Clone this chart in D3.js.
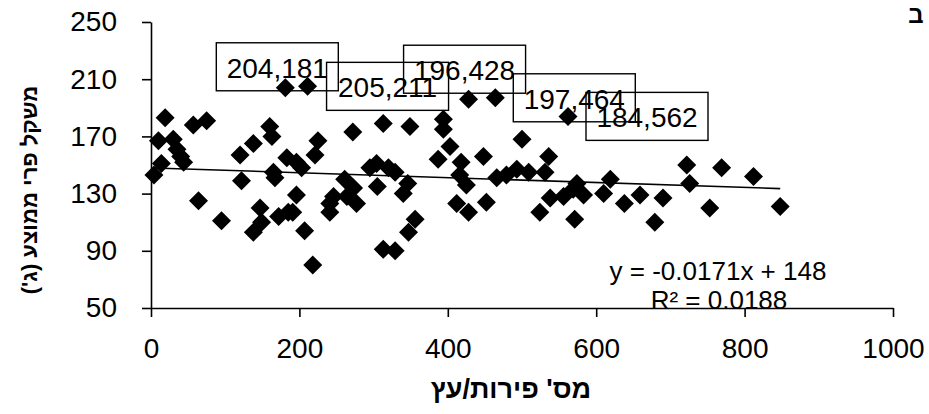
<!DOCTYPE html>
<html>
<head>
<meta charset="utf-8">
<script src="https://cdn.jsdelivr.net/npm/d3@7"></script>
<style>
    body { margin: 0; background: #fff; }
    svg { display: block; }
</style>
</head>
<body>
<svg id="chart"></svg>
<script>
// מס' פירות לעץ (x) ומשקל פרי ממוצע (y)
const fruitCount = [4, 10, 14, 19, 30, 35, 40, 44, 57, 64, 75, 95, 120, 122, 138, 138, 147, 149, 160, 163,
    165, 167, 172, 183, 185, 191, 196, 196, 181, 203, 207, 211, 218, 221, 225, 241, 241, 246, 272, 261,
    264, 273, 277, 295, 304, 305, 313, 313, 320, 329, 329, 340, 346, 347, 349, 356, 394, 394, 403, 387,
    418, 416, 412, 428, 425, 428, 448, 452, 464, 466, 479, 493, 500, 509, 524, 531, 536, 538, 556, 562,
    569, 571, 574, 583, 610, 619, 638, 659, 679, 690, 722, 726, 753, 769, 812, 848];
const fruitWeight = [143, 167, 151, 183, 168, 161, 156, 152, 178, 125, 181, 111, 157, 139, 165, 103, 120, 110, 177, 170,
    145, 141, 114, 155, 117, 117, 152, 129, 204, 148, 104, 205, 80, 157, 167, 123, 117, 128, 173, 140,
    128, 134, 123, 148, 151, 135, 179, 91, 148, 145, 90, 130, 137, 103, 177, 112, 182, 175, 163, 154,
    152, 143, 123, 117, 136, 196, 156, 124, 197, 141, 143, 147, 168, 145, 117, 145, 156, 127, 128, 184,
    133, 112, 137, 129, 130, 140, 123, 129, 110, 127, 150, 137, 120, 148, 142, 121];

// נקודות מסומנות (משקל,מס' פירות)
const labelCount = [181, 211, 428, 464, 562];
const labelWeight = [204, 205, 196, 197, 184];

const xTicks = [0, 200, 400, 600, 800, 1000];
const yTicks = [50, 90, 130, 170, 210, 250];

const trendSlope = -0.0171;
const trendIntercept = 148;
const trendR2 = 0.0188;

const width = 929, height = 414;
const font = "'Liberation Sans', Arial, 'DejaVu Sans', sans-serif";

// מיקום תיבות התוויות ביחס לנקודה
const labelOffset = [[-8, -21], [80, 0], [-4, -30], [79, 0], [79, 0]];

const svg = d3.select("#chart")
    .attr("width", width)
    .attr("height", height);

const x = d3.scaleLinear().domain([0, 1000]).range([151, 893]);
const y = d3.scaleLinear().domain([50, 250]).range([308, 22]);

// צירים
const xAxis = svg.append("g")
    .attr("transform", `translate(0, ${y(50)})`)
    .call(d3.axisBottom(x).tickValues(xTicks).tickFormat(d3.format("d"))
        .tickSize(9).tickSizeOuter(0).tickPadding(21));
const yAxis = svg.append("g")
    .attr("transform", `translate(${x(0)}, 0)`)
    .call(d3.axisLeft(y).tickValues(yTicks).tickFormat(d3.format("d"))
        .tickSize(9).tickSizeOuter(0).tickPadding(25));

[xAxis, yAxis].forEach(ax => {
    ax.select(".domain").attr("stroke", "#000").attr("stroke-width", 1.6);
    ax.selectAll(".tick line").attr("stroke", "#000").attr("stroke-width", 1.6);
    ax.selectAll(".tick text")
        .attr("fill", "#000")
        .attr("font-size", 28)
        .attr("font-family", font);
});

// נקודות
const points = fruitCount.map((c, i) => ({ c: c, w: fruitWeight[i] }));
const r = 9.5;
const diamond = `M0,${-r}L${r},0L0,${r}L${-r},0Z`;

svg.append("g")
    .selectAll("path")
    .data(points)
    .join("path")
    .attr("d", diamond)
    .attr("transform", d => `translate(${x(d.c)}, ${y(d.w)})`)
    .attr("fill", "#000");

// קו מגמה
const ext = d3.extent(fruitCount);
svg.append("line")
    .attr("x1", x(ext[0]))
    .attr("y1", y(trendSlope * ext[0] + trendIntercept))
    .attr("x2", x(ext[1]))
    .attr("y2", y(trendSlope * ext[1] + trendIntercept))
    .attr("stroke", "#000")
    .attr("stroke-width", 1.6);

// תוויות נתונים
const boxW = 122, boxH = 48;
const labels = svg.append("g")
    .selectAll("g")
    .data(labelCount.map((c, i) => ({ c: c, w: labelWeight[i], off: labelOffset[i] })))
    .join("g")
    .attr("transform", d => `translate(${x(d.c) + d.off[0]}, ${y(d.w) + d.off[1]})`);

labels.append("rect")
    .attr("x", -boxW / 2)
    .attr("y", -boxH / 2)
    .attr("width", boxW)
    .attr("height", boxH)
    .attr("fill", "none")
    .attr("stroke", "#000")
    .attr("stroke-width", 1.4);

labels.append("text")
    .text(d => `${d.w},${d.c}`)
    .attr("text-anchor", "middle")
    .attr("y", 11)
    .attr("font-size", 28)
    .attr("font-family", font)
    .attr("fill", "#000");

// משוואת המגמה
svg.append("text")
    .attr("x", 718)
    .attr("y", 280)
    .attr("text-anchor", "middle")
    .attr("font-size", 26)
    .attr("font-family", font)
    .attr("fill", "#000")
    .text(`y = ${trendSlope}x + ${trendIntercept}`);

svg.append("text")
    .attr("x", 719)
    .attr("y", 309)
    .attr("text-anchor", "middle")
    .attr("font-size", 26)
    .attr("font-family", font)
    .attr("fill", "#000")
    .text(`R² = ${trendR2}`);

// כותרות צירים
svg.append("text")
    .attr("x", 511)
    .attr("y", 398)
    .attr("text-anchor", "middle")
    .attr("direction", "rtl")
    .attr("font-size", 27)
    .attr("font-weight", "bold")
    .attr("font-family", font)
    .attr("fill", "#000")
    .text("מס' פירות/עץ");

svg.append("text")
    .attr("transform", "translate(37, 190) rotate(-90)")
    .attr("text-anchor", "middle")
    .attr("direction", "rtl")
    .attr("font-size", 22)
    .attr("font-weight", "bold")
    .attr("font-family", font)
    .attr("fill", "#000")
    .text("משקל פרי ממוצע (ג')");

svg.append("text")
    .attr("x", 916)
    .attr("y", 23)
    .attr("text-anchor", "middle")
    .attr("font-size", 24)
    .attr("font-weight", "bold")
    .attr("font-family", font)
    .attr("fill", "#000")
    .text("ב");
</script>
</body>
</html>
